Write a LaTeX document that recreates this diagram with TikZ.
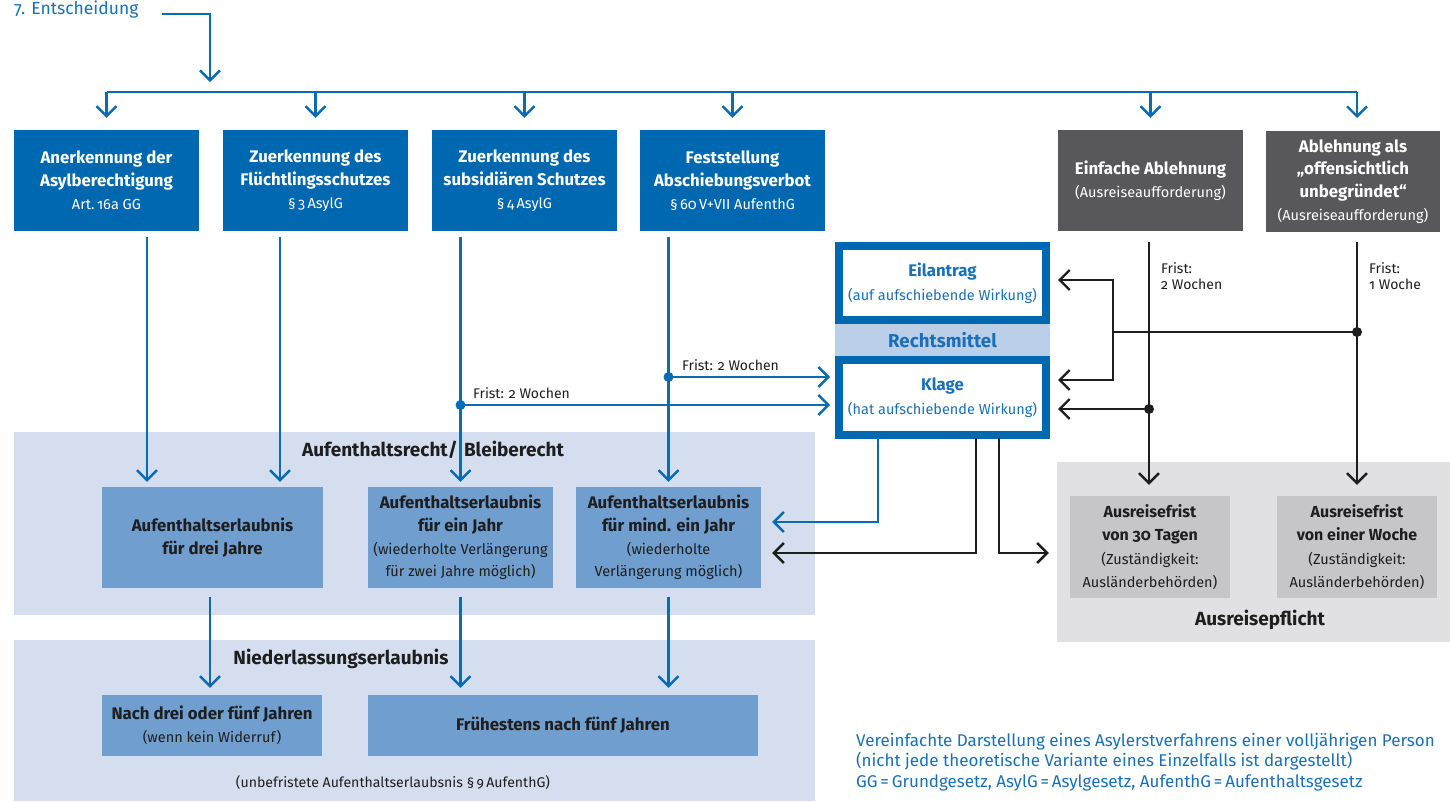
\documentclass[tikz,border=0pt]{standalone}
\usepackage{fontspec}
\setmainfont{Fira Sans}[Numbers=OldStyle]
\usetikzlibrary{arrows.meta,calc}
\definecolor{bbox}{HTML}{0067B1}
\definecolor{bline}{HTML}{0A6BB5}
\definecolor{tblue}{HTML}{1A70B8}
\definecolor{gbox}{HTML}{58585A}
\definecolor{lreg}{HTML}{D5DEEF}
\definecolor{mbox}{HTML}{6F9ECF}
\definecolor{rband}{HTML}{BCCFE8}
\definecolor{greg}{HTML}{E1E1E3}
\definecolor{gsbox}{HTML}{C6C6C8}
\definecolor{dark}{HTML}{1E1E1E}
\newcommand{\subtxt}[1]{{\fontsize{14.5}{20}\selectfont\mdseries #1}}
\newcommand{\subtxtb}[1]{{\fontsize{14.5}{20}\selectfont\mdseries #1}}
\begin{document}
\begin{tikzpicture}[x=1pt,y=-1pt,
  tipb/.style={-{Straight Barb[length=10pt,width=20pt]}},
  bl/.style={draw=bline, line width=2.4pt},
  kl/.style={draw=dark, line width=2.4pt},
  topbox/.style={rectangle, fill=bbox, text=white, minimum width=185pt, minimum height=101pt, inner sep=0pt, align=center, font=\fontsize{16.8}{22.8}\selectfont\bfseries},
  graybox/.style={topbox, fill=gbox},
  region/.style={rectangle, inner sep=0pt},
  midbox/.style={rectangle, fill=mbox, text=dark, inner sep=0pt, align=center, font=\fontsize{16.8}{22.8}\selectfont\bfseries},
  ausbox/.style={rectangle, fill=gsbox, text=dark, minimum width=160pt, minimum height=102pt, inner sep=0pt, align=center, font=\fontsize{16}{23.3}\selectfont\bfseries},
  rbox/.style={rectangle, draw=bbox, fill=white, line width=8pt, minimum width=207pt, inner sep=0pt, align=center, text=tblue, font=\fontsize{16.8}{24}\selectfont\bfseries},
  title/.style={text=dark, font=\fontsize{19}{22}\selectfont\bfseries, inner sep=0pt},
  frist/.style={text=dark, font=\fontsize{14}{15.5}\selectfont, align=left, inner sep=0pt, anchor=west},
  dot/.style={circle, fill=#1, inner sep=0pt, minimum size=10pt}
]
\useasboundingbox[fill=white] (0,0) rectangle (1450,801);

% regions
\node[region, fill=lreg, minimum width=801pt, minimum height=183pt] (aufreg) at (414.5,523.5) {};
\node[region, fill=lreg, minimum width=801pt, minimum height=161pt] (niedreg) at (414.5,720.5) {};
\node[region, fill=greg, minimum width=393pt, minimum height=180pt] (ausreg) at (1253.5,552) {};
\node[title] (auftitle) at (433,450) {Aufenthaltsrecht/\,\,Bleiberecht};
\node[title] (niedtitle) at (341,659) {Niederlassungserlaubnis};
\node[text=dark, font=\fontsize{14.1}{16}\selectfont, inner sep=0pt] (unbef) at (393,783) {(unbefristete Aufenthaltserlaubsnis §\,9\,AufenthG)};
\node[title] (austitle) at (1260,620) {Ausreisepflicht};

% heading
\node[anchor=west, text=tblue, font=\fontsize{17.5}{19}\selectfont, inner sep=0pt] (ent) at (14,10) {7. Entscheidung};

% top boxes
\node[topbox] (anerk) at (106.5,180.5) {Anerkennung der\\Asylberechtigung\\\subtxt{Art.\,16a GG}};
\node[topbox] (flucht) at (315.5,180.5) {Zuerkennung des\\Flüchtlingsschutzes\\\subtxt{§\,3\,AsylG}};
\node[topbox] (subs) at (524.5,180.5) {Zuerkennung des\\subsidiären Schutzes\\\subtxt{§\,4\,AsylG}};
\node[topbox] (absch) at (732.5,180.5) {Feststellung\\Abschiebungsverbot\\\subtxt{§\,60\,V+VII AufenthG}};
\node[graybox] (einf) at (1150.5,180.5) {Einfache Ablehnung\\\subtxtb{(Ausreiseaufforderung)}};
\node[graybox, minimum width=174pt] (offen) at (1353,181.5) {Ablehnung als\\„offensichtlich\\unbegründet“\\\subtxtb{(Ausreiseaufforderung)}};

% Rechtsmittel
\node[rbox, minimum height=74pt] (eil) at (942.5,283) {Eilantrag\\\subtxtb{(auf aufschiebende Wirkung)}};
\node[rectangle, fill=rband, minimum width=215pt, minimum height=32pt, inner sep=0pt, text=tblue, font=\fontsize{18.7}{20}\selectfont\bfseries] (recht) at (942.5,340) {Rechtsmittel};
\node[rbox, minimum height=75pt] (klage) at (942.5,397.5) {Klage\\\subtxtb{(hat aufschiebende Wirkung)}};

% lower boxes
\node[midbox, minimum width=221pt, minimum height=101pt] (drei) at (212.5,537.5) {Aufenthaltserlaubnis\\für drei Jahre};
\node[midbox, minimum width=185pt, minimum height=101pt] (einjahr) at (460.5,537.5) {Aufenthaltserlaubnis\\für ein Jahr\\\subtxtb{(wiederholte Verlängerung}\\\subtxtb{für zwei Jahre möglich)}};
\node[midbox, minimum width=185pt, minimum height=101pt] (mind) at (668.5,537.5) {Aufenthaltserlaubnis\\für mind. ein Jahr\\\subtxtb{(wiederholte}\\\subtxtb{Verlängerung möglich)}};
\node[midbox, minimum width=220pt, minimum height=61pt] (nach) at (212,725.5) {Nach drei oder fünf Jahren\\\subtxtb{(wenn kein Widerruf)}};
\node[midbox, minimum width=390pt, minimum height=61pt] (frueh) at (563,725.5) {Frühestens nach fünf Jahren};
\node[ausbox] (aus30) at (1150,547) {Ausreisefrist\\von 30 Tagen\\\subtxtb{(Zuständigkeit:}\\\subtxtb{Ausländerbehörden)}};
\node[ausbox] (aus1w) at (1357,547) {Ausreisefrist\\von einer Woche\\\subtxtb{(Zuständigkeit:}\\\subtxtb{Ausländerbehörden)}};

% footnote
\node[anchor=west, align=left, text=tblue, font=\fontsize{17}{20.5}\selectfont, inner sep=0pt] (note) at (856,762) {Vereinfachte Darstellung eines Asylerstverfahrens einer volljährigen Person\\(nicht jede theoretische Variante eines Einzelfalls ist dargestellt)\\GG\,=\,Grundgesetz, AsylG\,=\,Asylgesetz, AufenthG\,=\,Aufenthaltsgesetz};

% top distribution
\coordinate (bar) at (0,92);
\coordinate (ox) at (1357,92);
\draw[bl, tipb] ($(ent.east)+(23,4)$) -| (210,82);
\draw[bl] (anerk.north |- bar) -- (ox);
\foreach \n in {anerk,flucht,subs,absch,einf}
  \draw[bl, tipb] (\n.north |- bar) -- ($(\n.north)+(0,-12)$);
\draw[bl, tipb] (ox) -- (ox |- 0,118);

% blue verticals
\coordinate (l1) at ($(anerk.south)+(40.5,6)$);
\coordinate (l2) at ($(flucht.south)+(-35.5,6)$);
\draw[bl, tipb] (l1) -- ($(l1 |- drei.north)+(0,-5)$);
\draw[bl, tipb] (l2) -- ($(l2 |- drei.north)+(0,-5)$);
\draw[bl, tipb] ($(einjahr.north |- subs.south)+(0,6)$) -- ($(einjahr.north)+(0,-5)$);
\draw[bl, tipb] ($(mind.north |- absch.south)+(0,6)$) -- ($(mind.north)+(0,-5)$);

% Frist 2 Wochen (blue)
\node[dot=bline] (d1) at (einjahr.north |- 0,405) {};
\node[dot=bline] (d2) at (mind.north |- 0,377) {};
\draw[bl, tipb] (d1.center) -- ($(d1 -| klage.west)+(-5,0)$);
\draw[bl, tipb] (d2.center) -- ($(d2 -| klage.west)+(-5,0)$);
\node[frist] (f1) at (473,393) {Frist: 2 Wochen};
\node[frist] (f2) at (682,365) {Frist: 2 Wochen};

% to Niederlassung
\draw[bl, tipb] ($(nach.north |- drei.south)+(-2,9)$) -- ($(nach.north)+(-2,-7)$);
\draw[bl, tipb] ($(einjahr.south)+(0,9)$) -- ($(einjahr.south |- frueh.north)+(0,-7)$);
\draw[bl, tipb] ($(mind.south)+(0,9)$) -- ($(mind.south |- frueh.north)+(0,-7)$);

% black right side
\coordinate (ev) at ($(einf.south)+(-1.5,11)$);
\coordinate (ov) at (1357,242);
\draw[kl, tipb] (ev) -- ($(ev |- aus30.north)+(0,-11)$);
\draw[kl, tipb] (ov) -- ($(ov |- aus1w.north)+(0,-11)$);
\node[frist] (f3) at (1161,276) {Frist:\\2 Wochen};
\node[frist] (f4) at (1369,276) {Frist:\\1 Woche};
\node[dot=dark] (d3) at (1357,332) {};
\node[dot=dark] (d4) at (ev |- 0,409) {};
\coordinate (kx) at (1113,332);
\draw[kl] (d3.center) -- (kx);
\draw[kl, tipb] (kx) |- ($(eil.east)+(8,-3)$);
\draw[kl, tipb] (kx) |- ($(klage.east)+(8,-17.5)$);
\draw[kl, tipb] (d4.center) -- ($(klage.east)+(8,11.5)$);

% Klage bottom
\draw[bl, tipb] ($(klage.south)+(-64.5,-1)$) |- ($(mind.east)+(11,-15.5)$);
\draw[kl, tipb] ($(klage.south)+(33.5,-1)$) |- ($(mind.east)+(11,15.5)$);
\draw[kl, tipb] ($(klage.south)+(56.5,-1)$) |- ($(ausreg.west |- mind.east)+(-8,15.5)$);
\end{tikzpicture}
\end{document}
